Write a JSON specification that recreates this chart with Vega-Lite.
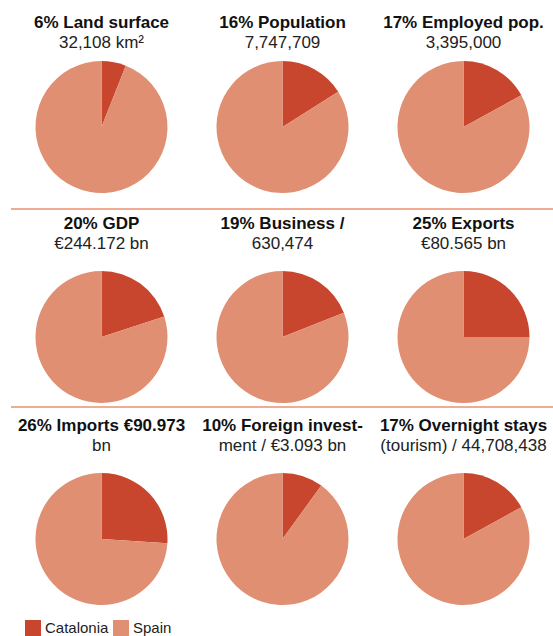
{
  "$schema": "https://vega.github.io/schema/vega-lite/v6.json",
  "padding": {"left": 10, "top": 14, "right": 0, "bottom": 0},
  "datasets": {
    "pies": [
      {"panel": "Land surface", "region": "Catalonia", "value": 6},
      {"panel": "Land surface", "region": "Spain", "value": 94},
      {"panel": "Population", "region": "Catalonia", "value": 16},
      {"panel": "Population", "region": "Spain", "value": 84},
      {"panel": "Employed pop.", "region": "Catalonia", "value": 17},
      {"panel": "Employed pop.", "region": "Spain", "value": 83},
      {"panel": "GDP", "region": "Catalonia", "value": 20},
      {"panel": "GDP", "region": "Spain", "value": 80},
      {"panel": "Business", "region": "Catalonia", "value": 19},
      {"panel": "Business", "region": "Spain", "value": 81},
      {"panel": "Exports", "region": "Catalonia", "value": 25},
      {"panel": "Exports", "region": "Spain", "value": 75},
      {"panel": "Imports", "region": "Catalonia", "value": 26},
      {"panel": "Imports", "region": "Spain", "value": 74},
      {"panel": "Foreign investment", "region": "Catalonia", "value": 10},
      {"panel": "Foreign investment", "region": "Spain", "value": 90},
      {"panel": "Overnight stays", "region": "Catalonia", "value": 17},
      {"panel": "Overnight stays", "region": "Spain", "value": 83}
    ],
    "separator": [{"line": "row separator"}]
  },
  "data": {"name": "pies"},
  "columns": 3,
  "bounds": "flush",
  "spacing": {"row": 58, "column": 0},
  "concat": [
    {
      "width": 181, "height": 164,
      "title": {"text": "6% Land surface", "subtitle": "32,108 km²", "offset": -7},
      "transform": [{"filter": {"field": "panel", "equal": "Land surface"}}],
      "layer": [
        {"mark": {"type": "arc", "outerRadius": 66},
         "encoding": {"theta": {"field": "value", "type": "quantitative"}, "color": {"field": "region", "type": "nominal"}}},
        {"data": {"name": "separator"}, "mark": {"type": "rule", "color": "#ec8f6f", "strokeWidth": 1.5},
         "encoding": {"y": {"value": "height"}}}
      ]
    },
    {
      "width": 181, "height": 164,
      "title": {"text": "16% Population", "subtitle": "7,747,709", "offset": -7},
      "transform": [{"filter": {"field": "panel", "equal": "Population"}}],
      "layer": [
        {"mark": {"type": "arc", "outerRadius": 66},
         "encoding": {"theta": {"field": "value", "type": "quantitative"}, "color": {"field": "region", "type": "nominal"}}},
        {"data": {"name": "separator"}, "mark": {"type": "rule", "color": "#ec8f6f", "strokeWidth": 1.5},
         "encoding": {"y": {"value": "height"}}}
      ]
    },
    {
      "width": 181, "height": 164,
      "title": {"text": "17% Employed pop.", "subtitle": "3,395,000", "offset": -7},
      "transform": [{"filter": {"field": "panel", "equal": "Employed pop."}}],
      "layer": [
        {"mark": {"type": "arc", "outerRadius": 66},
         "encoding": {"theta": {"field": "value", "type": "quantitative"}, "color": {"field": "region", "type": "nominal"}}},
        {"data": {"name": "separator"}, "mark": {"type": "rule", "color": "#ec8f6f", "strokeWidth": 1.5},
         "encoding": {"y": {"value": "height"}}}
      ]
    },
    {
      "width": 181, "height": 140,
      "title": {"text": "20% GDP", "subtitle": "€244.172 bn", "offset": 14},
      "transform": [{"filter": {"field": "panel", "equal": "GDP"}}],
      "layer": [
        {"mark": {"type": "arc", "outerRadius": 66},
         "encoding": {"theta": {"field": "value", "type": "quantitative"}, "color": {"field": "region", "type": "nominal"}}},
        {"data": {"name": "separator"}, "mark": {"type": "rule", "color": "#ec8f6f", "strokeWidth": 1.5},
         "encoding": {"y": {"value": "height"}}}
      ]
    },
    {
      "width": 181, "height": 140,
      "title": {"text": "19% Business /", "subtitle": "630,474", "offset": 14},
      "transform": [{"filter": {"field": "panel", "equal": "Business"}}],
      "layer": [
        {"mark": {"type": "arc", "outerRadius": 66},
         "encoding": {"theta": {"field": "value", "type": "quantitative"}, "color": {"field": "region", "type": "nominal"}}},
        {"data": {"name": "separator"}, "mark": {"type": "rule", "color": "#ec8f6f", "strokeWidth": 1.5},
         "encoding": {"y": {"value": "height"}}}
      ]
    },
    {
      "width": 181, "height": 140,
      "title": {"text": "25% Exports", "subtitle": "€80.565 bn", "offset": 14},
      "transform": [{"filter": {"field": "panel", "equal": "Exports"}}],
      "layer": [
        {"mark": {"type": "arc", "outerRadius": 66},
         "encoding": {"theta": {"field": "value", "type": "quantitative"}, "color": {"field": "region", "type": "nominal"}}},
        {"data": {"name": "separator"}, "mark": {"type": "rule", "color": "#ec8f6f", "strokeWidth": 1.5},
         "encoding": {"y": {"value": "height"}}}
      ]
    },
    {
      "width": 181, "height": 148,
      "title": {"text": "26% Imports €90.973", "subtitle": "bn", "offset": 10},
      "transform": [{"filter": {"field": "panel", "equal": "Imports"}}],
      "mark": {"type": "arc", "outerRadius": 66},
      "encoding": {"theta": {"field": "value", "type": "quantitative"}, "color": {"field": "region", "type": "nominal"}}
    },
    {
      "width": 181, "height": 148,
      "title": {"text": "10% Foreign invest-", "subtitle": "ment / €3.093 bn", "offset": 10},
      "transform": [{"filter": {"field": "panel", "equal": "Foreign investment"}}],
      "mark": {"type": "arc", "outerRadius": 66},
      "encoding": {"theta": {"field": "value", "type": "quantitative"}, "color": {"field": "region", "type": "nominal"}}
    },
    {
      "width": 181, "height": 148,
      "title": {"text": "17% Overnight stays", "subtitle": "(tourism) / 44,708,438", "offset": 10},
      "transform": [{"filter": {"field": "panel", "equal": "Overnight stays"}}],
      "mark": {"type": "arc", "outerRadius": 66},
      "encoding": {"theta": {"field": "value", "type": "quantitative"}, "color": {"field": "region", "type": "nominal"}}
    }
  ],
  "resolve": {"scale": {"color": "shared"}},
  "config": {
    "view": {"stroke": null},
    "range": {"category": ["#c8462d", "#e08f72"]},
    "title": {
      "font": "Liberation Sans", "fontSize": 17, "fontWeight": "bold", "color": "#111111",
      "subtitleFont": "Liberation Sans", "subtitleFontSize": 17, "subtitleFontWeight": "normal",
      "subtitleColor": "#222222", "subtitlePadding": 3, "anchor": "middle"
    },
    "legend": {
      "orient": "bottom", "direction": "horizontal", "title": null,
      "symbolType": "square", "symbolSize": 256, "symbolStrokeWidth": 0, "symbolOpacity": 1,
      "labelFont": "Liberation Sans", "labelFontSize": 15, "labelColor": "#222222",
      "labelOffset": 4, "columnPadding": 4, "padding": 14, "offset": -7
    }
  }
}
